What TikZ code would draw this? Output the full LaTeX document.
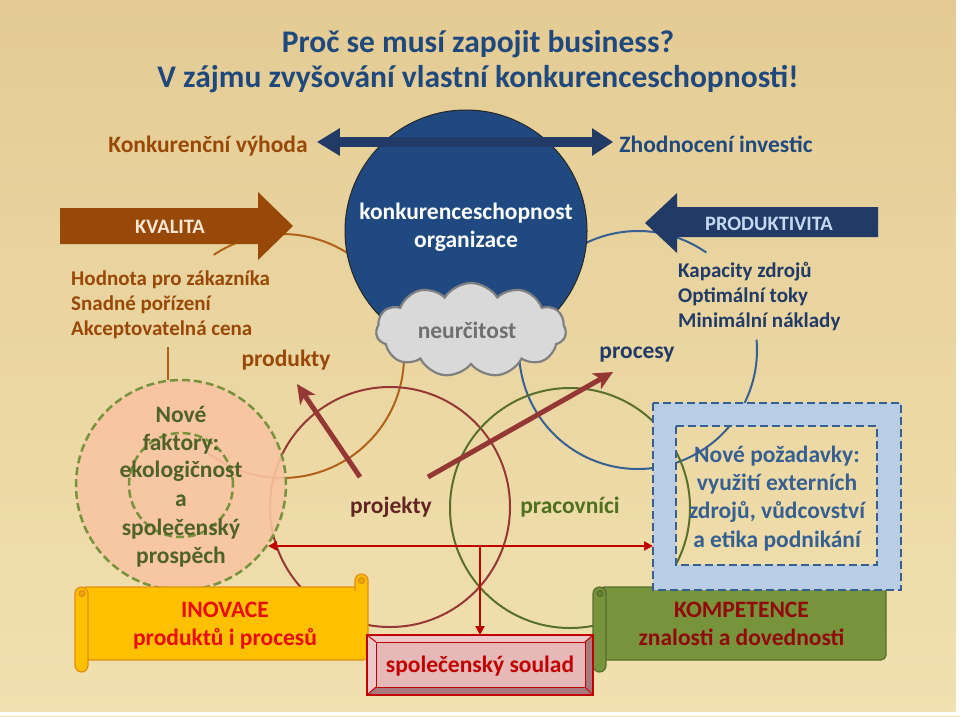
\documentclass[tikz,border=0pt]{standalone}
\usepackage{fontspec}
\setmainfont{Carlito}
\usetikzlibrary{shapes.symbols,arrows.meta}
\definecolor{bgtop}{RGB}{228,203,148}
\definecolor{bgbot}{RGB}{241,225,176}
\definecolor{tblue}{RGB}{31,73,125}
\definecolor{navy}{RGB}{33,58,102}
\definecolor{circblue}{RGB}{31,73,128}
\definecolor{brn}{RGB}{152,72,7}
\definecolor{kvtxt}{RGB}{250,232,215}
\definecolor{prtxt}{RGB}{198,217,241}
\definecolor{orng}{RGB}{178,98,24}
\definecolor{rbrn}{RGB}{149,55,53}
\definecolor{grn}{RGB}{88,112,44}
\definecolor{dgrn}{RGB}{79,98,40}
\definecolor{prgrn}{RGB}{79,112,30}
\definecolor{cblue}{RGB}{55,96,146}
\definecolor{peach}{RGB}{249,196,162}
\definecolor{gdash}{RGB}{119,147,60}
\definecolor{cloudfill}{RGB}{217,217,217}
\definecolor{cloudline}{RGB}{128,128,128}
\definecolor{cloudtxt}{RGB}{112,112,112}
\definecolor{boxfill}{RGB}{185,205,229}
\definecolor{gold}{RGB}{255,192,0}
\definecolor{goldline}{RGB}{227,140,20}
\definecolor{inored}{RGB}{232,12,12}
\definecolor{kgreen}{RGB}{119,147,60}
\definecolor{kgline}{RGB}{88,110,44}
\definecolor{kred}{RGB}{145,10,10}
\definecolor{pinkface}{RGB}{230,185,184}
\definecolor{pinklight}{RGB}{238,200,200}
\definecolor{pinkdark}{RGB}{168,122,128}
\definecolor{sred}{RGB}{192,0,0}
\definecolor{projtxt}{RGB}{99,37,35}
\newcommand\fT{\fontsize{31.5}{35}\selectfont\bfseries}
\newcommand\fB{\fontsize{23.5}{28}\selectfont\bfseries}
\newcommand\fS{\fontsize{21}{25}\selectfont\bfseries}
\newcommand\fK{\fontsize{20.5}{24}\selectfont\bfseries}
\newcommand\scrollfig[6]{%
 \begin{scope}[line width=1.2, draw=#6, fill=#5]
  \filldraw[rounded corners=5] ({#1+6},#2) rectangle (#3,#4);
  \filldraw ({#3-13},{#2+4}) -- ({#3-13},{#2-6.5}) arc[start angle=180,end angle=360,radius=6.5] -- (#3,{#2+4});
  \filldraw[fill=#6!55!#5] ({#3-6.5},{#2-6.5}) circle[radius=3];
  \filldraw (#1,{#2+6.5}) -- (#1,{#4+5.5}) arc[start angle=180,end angle=0,radius=6.5] -- ({#1+13},{#2+6.5}) arc[start angle=0,end angle=-180,radius=6.5] -- cycle;
  \filldraw[fill=#6!55!#5] ({#1+7},{#2+6.5}) circle[radius=3];
 \end{scope}}
\tikzset{
 txt/.style={inner sep=0, anchor=base},
 ltxt/.style={inner sep=0, anchor=base west},
 thinarc/.style={line width=2},
 redthin/.style={draw=sred, line width=2},
 rtip/.tip={Triangle[length=9pt,width=9pt]},
 fatred/.style={draw=rbrn, line width=5, -{Stealth[length=19pt,width=18pt,inset=5pt]}},
 bluedash/.style={draw=cblue, line width=2.5, dash pattern=on 8pt off 4pt}
}
\begin{document}
\begin{tikzpicture}[x=1pt,y=-1pt]
\shade[top color=bgtop, bottom color=bgbot] (0,0) rectangle (960,716);
\useasboundingbox (0,0) rectangle (960,716);
\fill[white] (956,0) rectangle (960,716);
\fill[white] (0,712) rectangle (960,716);

% arcs behind
\draw[orng, thinarc] (282,356) ++(128:122) arc[start angle=128, end angle=-124, radius=122];
\draw[cblue, thinarc] (638,350) ++(-55:119) arc[start angle=-55, end angle=-365, radius=119];
\node[circle, draw=rbrn, line width=2, minimum size=240, inner sep=0] (projC) at (390,507) {};
\node[circle, draw=grn, line width=2, minimum size=240, inner sep=0] (pracC) at (570,508) {};

% big circle and cloud
\node[circle, fill=circblue, draw=black!85, line width=1, minimum size=242, inner sep=0] (konk) at (466,231) {};
\node[txt, white, font=\fB] (k1) at (466,219) {konkurenceschopnost};
\node[txt, white, font=\fB] (k2) at (466,247) {organizace};
\node[cloud, cloud puffs=11, cloud puff arc=115, aspect=2, fill=cloudfill, draw=cloudline, line width=2.2, minimum width=190, minimum height=94, inner sep=0] (cloud) at (471,330) {};
\node[txt, cloudtxt, font=\fB] (neu) at (467,338) {neurčitost};

% title
\node[txt, tblue, font=\fT] (t1) at (478,52) {Proč se musí zapojit business?};
\node[txt, tblue, font=\fT] (t2) at (478,87) {V zájmu zvyšování vlastní konkurenceschopnosti!};

% top double arrow
\node[txt, brn, font=\fB] (kv) at (208,152) {Konkurenční výhoda};
\node[txt, tblue, font=\fB] (zi) at (716,152) {Zhodnocení investic};
\draw[navy, line width=10, {Triangle[length=23pt,width=26pt]}-{Triangle[length=21pt,width=26pt]}] ([shift={(9,-10)}]kv.base east) -- ([shift={(-6,-10)}]zi.base west);

% KVALITA / PRODUKTIVITA
\fill[brn] (60,208) -- (258,208) -- (258,192) -- (293,226) -- (258,260) -- (258,244) -- (60,244) -- cycle;
\node[txt, kvtxt, font=\fK] (kval) at (170,233) {KVALITA};
\fill[navy] (878,207) -- (677,207) -- (677,193) -- (645,223) -- (677,253) -- (677,237) -- (878,237) -- cycle;
\node[txt, prtxt, font=\fK] (prod) at (769,230) {PRODUKTIVITA};

% side lists
\node[ltxt, brn, font=\fS] (h1) at (71,285) {Hodnota pro zákazníka};
\node[ltxt, brn, font=\fS] (h2) at (71,310) {Snadné pořízení};
\node[ltxt, brn, font=\fS] (h3) at (71,335) {Akceptovatelná cena};
\node[txt, brn, font=\fB] (produkty) at (286,366) {produkty};
\node[ltxt, navy, font=\fS] (c1) at (678,277) {Kapacity zdrojů};
\node[ltxt, navy, font=\fS] (c2) at (678,302) {Optimální toky};
\node[ltxt, navy, font=\fS] (c3) at (678,327) {Minimální náklady};
\node[txt, navy, font=\fB] (procesy) at (637,358) {procesy};

% peach circle
\node[circle, fill=peach, fill opacity=0.9, draw=gdash, line width=2.5, dash pattern=on 8pt off 4pt, minimum size=210, inner sep=0] (peach) at (181,485) {};
\node[circle, draw=gdash, line width=2.5, dash pattern=on 8pt off 4pt, minimum size=104, inner sep=0] (peachin) at (181,485) {};
\draw[orng, thinarc] (peach.97.6) -- ++(0,-33);
\node[txt, dgrn, font=\fB] (n1) at (181,422) {Nové};
\node[txt, dgrn, font=\fB] (n2) at (181,450) {faktory:};
\node[txt, dgrn, font=\fB] (n3) at (181,477) {ekologičnost};
\node[txt, dgrn, font=\fB] (n4) at (181,506) {a};
\node[txt, dgrn, font=\fB] (n5) at (181,535) {společenský};
\node[txt, dgrn, font=\fB] (n6) at (181,563) {prospěch};

% inner labels
\node[txt, projtxt, font=\fB] (projekty) at (391,513) {projekty};
\node[txt, prgrn, font=\fB] (pracovnici) at (570,513) {pracovníci};

% thick red arrows
\coordinate (a1s) at (360,477); \coordinate (a1e) at (297,384);
\coordinate (a2s) at (428,477); \coordinate (a2e) at (613,372);
\draw[fatred] (a1s) -- (a1e);
\draw[fatred] (a2s) -- (a2e);

% scrolls
\scrollfig{75}{587}{368}{660}{gold}{goldline}
\node[txt, inored, font=\fB] (ino1) at (225,617) {INOVACE};
\node[txt, inored, font=\fB] (ino2) at (225,645) {produktů i procesů};
\scrollfig{593}{587}{886}{660}{kgreen}{kgline}
\node[txt, kred, font=\fB] (kom1) at (741.5,617) {KOMPETENCE};
\node[txt, kred, font=\fB] (kom2) at (741.5,645) {znalosti a dovednosti};

% bevel box
\node[minimum width=226, minimum height=60, inner sep=0, outer sep=0] (soulad) at (480,665) {};
\fill[pinklight] (367,635) -- (593,635) -- (585,642) -- (376,642) -- cycle;
\fill[pinklight] (367,635) -- (376,642) -- (376,687) -- (367,695) -- cycle;
\fill[pinkdark] (367,695) -- (593,695) -- (585,687) -- (376,687) -- cycle;
\fill[pinkdark] (593,635) -- (593,695) -- (585,687) -- (585,642) -- cycle;
\fill[pinkface] (376,642) rectangle (585,687);
\draw[sred, line width=1.2] (367,635) rectangle (593,695);
\draw[sred, line width=1] (376,642) rectangle (585,687);
\draw[sred, line width=1] (367,635) -- (376,642) (593,635) -- (585,642) (367,695) -- (376,687) (593,695) -- (585,687);
\node[txt, sred, font=\fB] (soul) at (480,672) {společenský soulad};

% blue frame
\node[minimum width=248, minimum height=187, inner sep=0, outer sep=0] (frameout) at (777,496.5) {};
\node[minimum width=201, minimum height=139, inner sep=0, outer sep=0] (framein) at (776.5,495.5) {};
\fill[boxfill, even odd rule] (frameout.north west) rectangle (frameout.south east) (framein.north west) rectangle (framein.south east);
\draw[bluedash] (frameout.north west) rectangle (frameout.south east);
\draw[bluedash] (framein.north west) rectangle (framein.south east);
\node[txt, cblue, font=\fB] (b1) at (777,462) {Nové požadavky:};
\node[txt, cblue, font=\fB] (b2) at (777,490) {využití externích};
\node[txt, cblue, font=\fB] (b3) at (777,518) {zdrojů, vůdcovství};
\node[txt, cblue, font=\fB] (b4) at (777,547) {a etika podnikání};

% thin red connectors
\draw[redthin, {rtip}-{rtip}] (peach.-35.5) -- (peach.-35.5 -| frameout.west);
\coordinate (J) at (peach.-35.5 -| soulad.north);
\draw[redthin, -{rtip}] (J) -- (soulad.north);
\end{tikzpicture}
\end{document}
